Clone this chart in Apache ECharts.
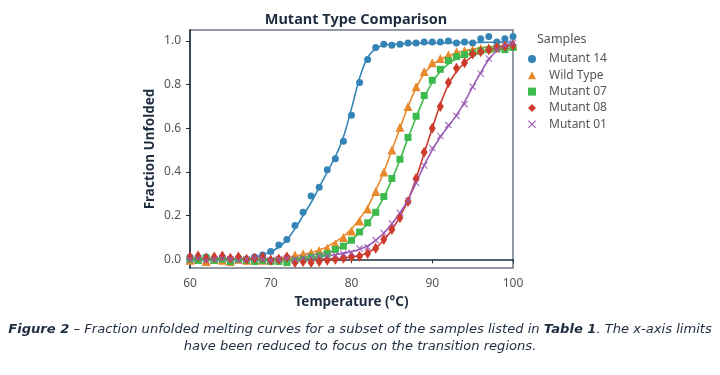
<!DOCTYPE html>
<html>
<head>
<meta charset="utf-8">
<script src="https://cdn.jsdelivr.net/npm/echarts@6/dist/echarts.min.js"></script>
<style>
  html, body { margin: 0; padding: 0; background: #fff; }
  #chart { width: 720px; height: 375px; }
</style>
</head>
<body>
<div id="chart"></div>
<script>
// temperatures (°C) of the measured points and of the fitted curves
const temps = [60, 61, 62, 63, 64, 65, 66, 67, 68, 69, 70, 71, 72, 73, 74, 75, 76, 77, 78, 79, 80,
  81, 82, 83, 84, 85, 86, 87, 88, 89, 90, 91, 92, 93, 94, 95, 96, 97, 98, 99, 100];

const seriesNames = ['Mutant 14', 'Wild Type', 'Mutant 07', 'Mutant 08', 'Mutant 01'];

// measured fraction unfolded
const mutant14 = [0.01, 0.005, 0.01, 0.0, 0.005, 0.0, 0.0, -0.005, 0.01, 0.02, 0.035,
  0.065, 0.09, 0.155, 0.215, 0.29, 0.33, 0.41, 0.46, 0.54, 0.66,
  0.81, 0.915, 0.97, 0.985, 0.98, 0.985, 0.99, 0.99, 0.995, 0.995,
  0.995, 1.0, 0.99, 0.995, 0.99, 1.01, 1.02, 0.995, 1.01, 1.02];
const wildType = [-0.005, 0.0, -0.01, 0.0, -0.005, -0.01, 0.0, -0.005, 0.0, -0.005, 0.0,
  0.005, 0.01, 0.02, 0.025, 0.03, 0.04, 0.05, 0.07, 0.10, 0.13,
  0.175, 0.23, 0.31, 0.40, 0.50, 0.605, 0.70, 0.79, 0.86, 0.90,
  0.92, 0.935, 0.95, 0.955, 0.96, 0.965, 0.97, 0.975, 0.98, 0.98];
const mutant07 = [0.0, -0.005, 0.005, -0.005, 0.0, -0.01, 0.0, -0.005, -0.01, -0.005, -0.01,
  -0.01, -0.015, -0.005, 0.0, 0.01, 0.015, 0.026, 0.045, 0.06, 0.087,
  0.125, 0.167, 0.215, 0.287, 0.37, 0.458, 0.558, 0.655, 0.75, 0.82,
  0.87, 0.91, 0.928, 0.937, 0.945, 0.955, 0.96, 0.965, 0.96, 0.97];
const mutant08 = [0.01, 0.015, 0.005, 0.01, 0.015, 0.005, 0.01, 0.0, 0.005, 0.01, -0.005,
  0.0, 0.01, -0.015, -0.01, -0.015, -0.01, -0.005, 0.0, 0.005, 0.01,
  0.014, 0.026, 0.05, 0.09, 0.136, 0.19, 0.265, 0.37, 0.49, 0.60,
  0.70, 0.81, 0.875, 0.90, 0.94, 0.95, 0.96, 0.97, 0.975, 0.98];
const mutant01 = [0.0, 0.005, -0.005, 0.0, 0.005, 0.0, -0.005, 0.0, 0.005, 0.0, -0.005,
  0.0, 0.005, 0.0, 0.005, 0.01, 0.015, 0.015, 0.02, 0.025, 0.03,
  0.049, 0.055, 0.087, 0.12, 0.164, 0.212, 0.267, 0.35, 0.43, 0.51,
  0.565, 0.615, 0.656, 0.71, 0.79, 0.85, 0.92, 0.96, 0.98, 0.99];

// fitted curves at the same temperatures
const fit14 = [0, 0, 0, 0, 0, 0, 0, 0, 0.01, 0.02, 0.035,
  0.055, 0.09, 0.14, 0.2, 0.26, 0.33, 0.4, 0.47, 0.56, 0.69,
  0.83, 0.925, 0.965, 0.98, 0.985, 0.987, 0.988, 0.99, 0.99, 0.99,
  0.991, 0.991, 0.992, 0.992, 0.993, 0.993, 0.994, 0.994, 0.995, 0.995];
const fitWT = [0, 0, 0, 0, 0, 0, 0, 0, 0, 0, 0.003,
  0.006, 0.01, 0.015, 0.022, 0.03, 0.042, 0.058, 0.08, 0.105, 0.14,
  0.185, 0.24, 0.315, 0.40, 0.50, 0.60, 0.70, 0.785, 0.85, 0.89,
  0.915, 0.932, 0.945, 0.955, 0.962, 0.968, 0.973, 0.977, 0.98, 0.983];
const fit07 = [-0.003, -0.003, -0.003, -0.003, -0.003, -0.003, -0.003, -0.003, -0.003, -0.003, -0.003,
  -0.003, -0.002, 0.0, 0.003, 0.008, 0.015, 0.027, 0.043, 0.062, 0.088,
  0.123, 0.165, 0.218, 0.285, 0.365, 0.455, 0.555, 0.65, 0.74, 0.81,
  0.86, 0.895, 0.918, 0.933, 0.943, 0.95, 0.956, 0.96, 0.964, 0.967];
const fit08 = [0.003, 0.003, 0.003, 0.003, 0.003, 0.003, 0.003, 0.003, 0.003, 0.003, 0.002,
  0.002, 0.002, 0.002, 0.002, 0.002, 0.002, 0.002, 0.002, 0.005, 0.01,
  0.017, 0.03, 0.052, 0.087, 0.135, 0.195, 0.27, 0.37, 0.485, 0.6,
  0.71, 0.8, 0.86, 0.9, 0.93, 0.948, 0.96, 0.968, 0.974, 0.978];
const fit01 = [0, 0, 0, 0, 0, 0, 0, 0, 0, 0, 0,
  0, 0, 0, 0.004, 0.008, 0.012, 0.016, 0.021, 0.027, 0.035,
  0.046, 0.062, 0.087, 0.12, 0.163, 0.213, 0.272, 0.35, 0.43, 0.5,
  0.56, 0.61, 0.66, 0.72, 0.79, 0.855, 0.915, 0.955, 0.978, 0.99];

const xTicks = [60, 70, 80, 90, 100];
const yTicks = [0, 0.2, 0.4, 0.6, 0.8, 1.0];

const colors = ['#3584b6', '#e8892b', '#3dba4d', '#cc3b2b', '#9a5bb5'];
const crossPath = 'path://M0,1L1,0L5,4L9,0L10,1L6,5L10,9L9,10L5,6L1,10L0,9L4,5Z';
const symbols = ['circle', 'triangle', 'rect', 'diamond', crossPath];
const symbolSizes = [7, 9, 7, [7, 11], 7];

const points = [mutant14, wildType, mutant07, mutant08, mutant01];
const fits = [fit14, fitWT, fit07, fit08, fit01];

const navy = '#1f2d40';
const font = 'Noto Sans';
const captionFont = 'DejaVu Sans';
const captionSize = 13.1;

const pair = (ys) => temps.map((t, i) => [t, ys[i]]);

const series = [];
seriesNames.forEach((name, i) => {
  series.push({
    name: name + ' fit',
    type: 'line',
    data: pair(fits[i]),
    smooth: 0.3,
    showSymbol: false,
    lineStyle: { color: colors[i], width: 1.6 },
    silent: true,
    z: 2
  });
  series.push({
    name: name,
    type: 'scatter',
    data: pair(points[i]),
    symbol: symbols[i],
    symbolSize: symbolSizes[i],
    itemStyle: { color: colors[i], opacity: 1 },
    z: 3
  });
});

const chart = echarts.init(document.getElementById('chart'));

chart.setOption({
  animation: false,
  textStyle: { fontFamily: font },
  title: {
    text: 'Mutant Type Comparison',
    left: 351,
    textAlign: 'center',
    top: 7,
    textStyle: { fontFamily: font, fontSize: 14.5, fontWeight: 'bold', color: navy }
  },
  grid: {
    left: 190, right: 207, top: 30, bottom: 107,
    show: true,
    borderColor: '#6e7884',
    borderWidth: 1.5
  },
  legend: {
    orient: 'vertical',
    left: 523,
    top: 48,
    itemWidth: 8,
    itemHeight: 8,
    itemGap: 4.3,
    data: seriesNames.map((n, i) => ({ name: n, icon: symbols[i] })),
    textStyle: { fontFamily: font, fontSize: 12, color: '#555', padding: [0, 0, 0, 8] }
  },
  xAxis: {
    type: 'value',
    min: 60,
    max: 100,
    interval: 10,
    name: 'Temperature (°C)',
    nameLocation: 'middle',
    nameGap: 27,
    nameTextStyle: { fontFamily: font, fontSize: 13.5, fontWeight: 'bold', color: navy },
    axisLine: { lineStyle: { color: navy, width: 1.5 } },
    axisTick: { length: 4, lineStyle: { color: navy } },
    axisLabel: { fontSize: 12, color: '#555', margin: 10 },
    splitLine: { show: false }
  },
  yAxis: {
    type: 'value',
    min: -0.04,
    max: 1.05,
    name: 'Fraction Unfolded',
    nameLocation: 'middle',
    nameGap: 33,
    nameTextStyle: { fontFamily: font, fontSize: 13.5, fontWeight: 'bold', color: navy },
    axisLine: { show: true, lineStyle: { color: navy, width: 1.5 } },
    axisTick: { show: true, length: 4, customValues: yTicks, lineStyle: { color: navy } },
    axisLabel: {
      fontSize: 12, color: '#555', margin: 9,
      customValues: yTicks,
      formatter: (v) => v.toFixed(1)
    },
    splitLine: { show: false }
  },
  graphic: [
    {
      type: 'text',
      left: 537,
      top: 33,
      style: { text: 'Samples', fontFamily: font, fontSize: 12.5, fill: '#555' }
    },
    {
      type: 'text',
      x: 360,
      y: 323,
      style: {
        text: '{b|Figure 2} – Fraction unfolded melting curves for a subset of the samples listed in {b|Table 1}. The x-axis limits',
        align: 'center',
        fontFamily: captionFont,
        fontSize: captionSize,
        fontStyle: 'italic',
        fill: navy,
        rich: {
          b: { fontFamily: captionFont, fontSize: captionSize, fontStyle: 'italic', fontWeight: 'bold', fill: navy }
        }
      }
    },
    {
      type: 'text',
      x: 360,
      y: 340,
      style: {
        text: 'have been reduced to focus on the transition regions.',
        align: 'center',
        fontFamily: captionFont,
        fontSize: captionSize,
        fontStyle: 'italic',
        fill: navy
      }
    }
  ],
  series: series
});
</script>
</body>
</html>
